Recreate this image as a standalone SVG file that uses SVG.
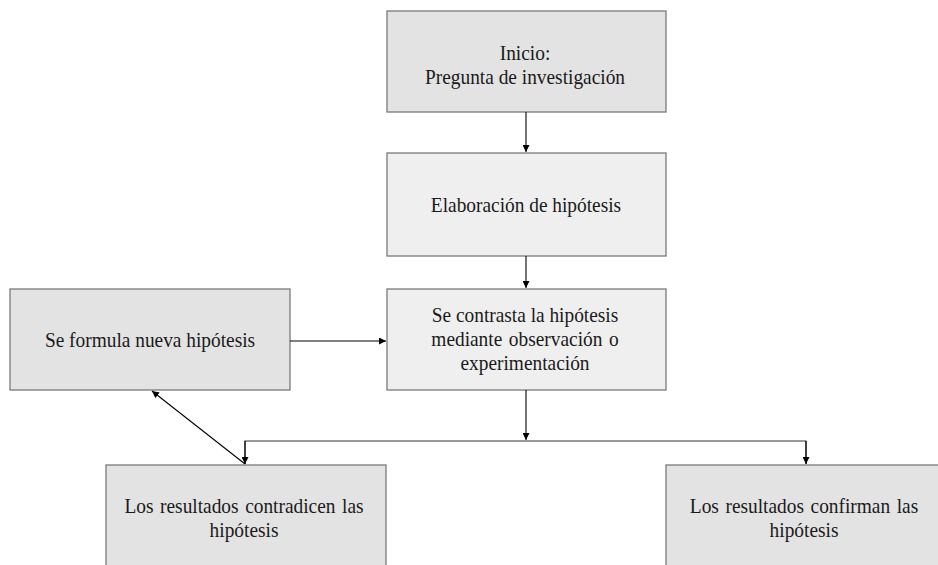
<svg xmlns="http://www.w3.org/2000/svg" width="938" height="565" viewBox="0 0 938 565">
<style>
.box{stroke:#7a7a7a;stroke-width:1.3}
.d{fill:#e3e3e3}
.l{fill:#efefef}
text{font-family:"Liberation Serif","Times New Roman",serif;font-size:22px;fill:#1a1a1a;text-anchor:middle}
.c{stroke:#000;stroke-width:1.1;fill:none}
</style>
<defs>
<marker id="ah" viewBox="0 0 10 10" refX="10" refY="5" markerWidth="7" markerHeight="7" markerUnits="userSpaceOnUse" orient="auto">
<path d="M0,0 L10,5 L0,10 z" fill="#000"/>
</marker>
</defs>
<rect width="938" height="565" fill="#fff"/>
<g id="n1"><rect class="box d" x="387" y="11" width="279" height="101"/><g transform="translate(525,0) scale(0.88,1)"><text x="0" y="60">Inicio:</text><text x="0" y="84">Pregunta de investigación</text></g></g>
<g id="n2"><rect class="box l" x="387" y="153" width="279" height="103"/><g transform="translate(526,0) scale(0.88,1)"><text x="0" y="212">Elaboración de hipótesis</text></g></g>
<g id="n3"><rect class="box l" x="387" y="289" width="279" height="101"/><g transform="translate(525,0) scale(0.88,1)"><text x="0" y="322">Se contrasta la hipótesis</text><text x="0" y="346" word-spacing="2">mediante observación o</text><text x="0" y="370">experimentación</text></g></g>
<g id="n4"><rect class="box d" x="10" y="289" width="280" height="101"/><g transform="translate(150,0) scale(0.88,1)"><text x="0" y="347">Se formula nueva hipótesis</text></g></g>
<g id="n5"><rect class="box d" x="106" y="465" width="280" height="110"/><g transform="translate(244,0) scale(0.88,1)"><text x="0" y="513" word-spacing="2">Los resultados contradicen las</text><text x="0" y="537">hipótesis</text></g></g>
<g id="n6"><rect class="box d" x="666" y="465" width="280" height="110"/><g transform="translate(804,0) scale(0.88,1)"><text x="0" y="513" word-spacing="2">Los resultados confirman las</text><text x="0" y="537">hipótesis</text></g></g>
<g id="connectors">
<line class="c" x1="526" y1="112" x2="526" y2="152" marker-end="url(#ah)"/>
<line class="c" x1="526" y1="256" x2="526" y2="288" marker-end="url(#ah)"/>
<line class="c" x1="290" y1="341" x2="386" y2="341" marker-end="url(#ah)"/>
<line class="c" x1="526" y1="390" x2="526" y2="440" marker-end="url(#ah)"/>
<polyline class="c" points="245,464 245,441 806,441 806,464" style="stroke:#333"/>
<line class="c" x1="245" y1="441" x2="245" y2="464" marker-end="url(#ah)"/>
<line class="c" x1="806" y1="441" x2="806" y2="464" marker-end="url(#ah)"/>
<line class="c" x1="245" y1="464" x2="152" y2="391" marker-end="url(#ah)"/>
</g>
</svg>
